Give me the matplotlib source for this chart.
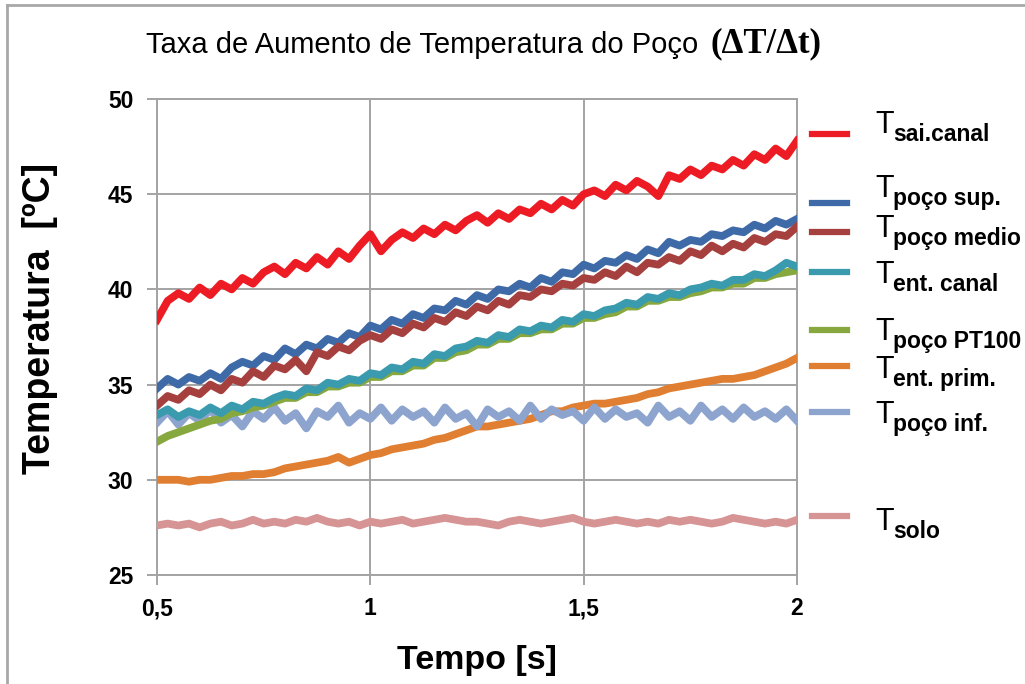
import matplotlib
matplotlib.use("Agg")
import matplotlib.pyplot as plt
from matplotlib.lines import Line2D

plt.rcParams["font.family"] = ["Liberation Sans", "DejaVu Sans"]

# time axis [s]
tempo = [0.500, 0.525, 0.550, 0.575, 0.600, 0.625, 0.650, 0.675, 0.700, 0.725,
         0.750, 0.775, 0.800, 0.825, 0.850, 0.875, 0.900, 0.925, 0.950, 0.975,
         1.000, 1.025, 1.050, 1.075, 1.100, 1.125, 1.150, 1.175, 1.200, 1.225,
         1.250, 1.275, 1.300, 1.325, 1.350, 1.375, 1.400, 1.425, 1.450, 1.475,
         1.500, 1.525, 1.550, 1.575, 1.600, 1.625, 1.650, 1.675, 1.700, 1.725,
         1.750, 1.775, 1.800, 1.825, 1.850, 1.875, 1.900, 1.925, 1.950, 1.975,
         2.000]

t_sai_canal = [38.4, 39.4, 39.8, 39.5, 40.1, 39.7, 40.3, 40.0, 40.6, 40.3,
               40.9, 41.2, 40.8, 41.4, 41.1, 41.7, 41.3, 42.0, 41.6, 42.3,
               42.9, 42.0, 42.6, 43.0, 42.7, 43.2, 42.9, 43.4, 43.1, 43.6,
               43.9, 43.5, 44.0, 43.7, 44.2, 44.0, 44.5, 44.2, 44.7, 44.4,
               45.0, 45.2, 44.9, 45.5, 45.2, 45.7, 45.4, 44.9, 46.0, 45.8,
               46.3, 46.0, 46.5, 46.3, 46.8, 46.5, 47.1, 46.8, 47.4, 47.0,
               47.8]
t_poco_sup = [34.8, 35.3, 35.0, 35.4, 35.2, 35.6, 35.3, 35.9, 36.2, 36.0,
              36.5, 36.3, 36.9, 36.6, 37.1, 36.9, 37.4, 37.2, 37.7, 37.5,
              38.1, 37.9, 38.4, 38.2, 38.7, 38.5, 39.0, 38.9, 39.4, 39.2,
              39.7, 39.5, 40.0, 39.9, 40.3, 40.1, 40.6, 40.4, 40.9, 40.8,
              41.3, 41.1, 41.5, 41.4, 41.8, 41.6, 42.1, 41.9, 42.5, 42.3,
              42.6, 42.5, 42.9, 42.8, 43.1, 43.0, 43.4, 43.2, 43.6, 43.4,
              43.7]
t_poco_medio = [33.9, 34.4, 34.2, 34.7, 34.5, 35.0, 34.7, 35.3, 35.1, 35.7,
                35.4, 36.0, 35.8, 36.3, 35.7, 36.7, 36.5, 37.0, 36.8, 37.3,
                37.6, 37.4, 37.9, 37.7, 38.2, 38.0, 38.5, 38.3, 38.8, 38.6,
                39.1, 38.9, 39.4, 39.2, 39.7, 39.6, 40.0, 39.9, 40.3, 40.2,
                40.6, 40.5, 40.9, 40.7, 41.2, 40.9, 41.4, 41.3, 41.7, 41.5,
                42.0, 41.8, 42.3, 42.0, 42.4, 42.2, 42.7, 42.5, 42.9, 42.8,
                43.3]
t_ent_canal = [33.4, 33.7, 33.3, 33.6, 33.4, 33.8, 33.5, 33.9, 33.7, 34.1,
               34.0, 34.3, 34.5, 34.4, 34.8, 34.7, 35.1, 35.0, 35.3, 35.2,
               35.6, 35.5, 35.9, 35.8, 36.2, 36.1, 36.6, 36.5, 36.9, 37.0,
               37.3, 37.2, 37.6, 37.5, 37.9, 37.8, 38.1, 38.0, 38.4, 38.3,
               38.7, 38.6, 38.9, 39.0, 39.3, 39.2, 39.6, 39.5, 39.8, 39.7,
               40.0, 40.1, 40.3, 40.2, 40.5, 40.5, 40.8, 40.7, 41.0, 41.4,
               41.2]
t_poco_pt100 = [32.0, 32.3, 32.5, 32.7, 32.9, 33.1, 33.2, 33.5, 33.6, 33.8,
                33.9, 34.1, 34.3, 34.3, 34.6, 34.6, 34.9, 34.9, 35.1, 35.1,
                35.4, 35.4, 35.7, 35.7, 36.0, 36.0, 36.4, 36.4, 36.7, 36.8,
                37.1, 37.1, 37.4, 37.4, 37.7, 37.7, 37.9, 37.9, 38.2, 38.2,
                38.5, 38.5, 38.7, 38.8, 39.1, 39.1, 39.4, 39.4, 39.6, 39.6,
                39.8, 39.9, 40.1, 40.1, 40.3, 40.3, 40.6, 40.6, 40.8, 40.9,
                41.0]
t_ent_prim = [30.0, 30.0, 30.0, 29.9, 30.0, 30.0, 30.1, 30.2, 30.2, 30.3,
              30.3, 30.4, 30.6, 30.7, 30.8, 30.9, 31.0, 31.2, 30.9, 31.1,
              31.3, 31.4, 31.6, 31.7, 31.8, 31.9, 32.1, 32.2, 32.4, 32.6,
              32.8, 32.8, 32.9, 33.0, 33.1, 33.2, 33.4, 33.6, 33.6, 33.8,
              33.9, 34.0, 34.0, 34.1, 34.2, 34.3, 34.5, 34.6, 34.8, 34.9,
              35.0, 35.1, 35.2, 35.3, 35.3, 35.4, 35.5, 35.7, 35.9, 36.1,
              36.4]
t_poco_inf = [33.0, 33.6, 32.9, 33.5, 33.1, 33.7, 33.0, 33.4, 32.8, 33.6,
              33.2, 33.8, 33.1, 33.5, 32.7, 33.6, 33.3, 33.9, 33.0, 33.5,
              33.2, 33.8, 33.1, 33.7, 33.3, 33.6, 33.0, 33.8, 33.2, 33.5,
              32.8, 33.7, 33.3, 33.6, 33.1, 33.9, 33.2, 33.7, 33.4, 33.6,
              33.1, 33.8, 33.2, 33.7, 33.3, 33.5, 33.0, 33.9, 33.3, 33.6,
              33.1, 33.9, 33.3, 33.7, 33.2, 33.8, 33.3, 33.6, 33.2, 33.7,
              33.1]
t_solo = [27.6, 27.7, 27.6, 27.7, 27.5, 27.7, 27.8, 27.6, 27.7, 27.9,
          27.7, 27.8, 27.7, 27.9, 27.8, 28.0, 27.8, 27.7, 27.8, 27.6,
          27.8, 27.7, 27.8, 27.9, 27.7, 27.8, 27.9, 28.0, 27.9, 27.8,
          27.8, 27.7, 27.6, 27.8, 27.9, 27.8, 27.7, 27.8, 27.9, 28.0,
          27.8, 27.7, 27.8, 27.9, 27.8, 27.7, 27.8, 27.7, 27.9, 27.8,
          27.9, 27.8, 27.7, 27.8, 28.0, 27.9, 27.8, 27.7, 27.8, 27.7,
          27.9]

x_ticks = [0.5, 1.0, 1.5, 2.0]
x_ticklabels = ["0,5", "1", "1,5", "2"]
y_ticks = [25, 30, 35, 40, 45, 50]

# (data, colour, subscript, zorder)
series = [
    (t_sai_canal, "#ED1C24", "sai.canal", 3),
    (t_poco_sup, "#3F6AA8", "poço sup.", 3),
    (t_poco_medio, "#A6403E", "poço medio", 4),
    (t_ent_canal, "#3A9AAE", "ent. canal", 5),
    (t_poco_pt100, "#86A83F", "poço PT100", 4.5),
    (t_ent_prim, "#E07E31", "ent. prim.", 3),
    (t_poco_inf, "#8DA5CE", "poço inf.", 3.5),
    (t_solo, "#D69494", "solo", 3),
]

W, H = 1025, 684
fig = plt.figure(figsize=(W / 100, H / 100), dpi=100)
fig.patch.set_facecolor("white")


def fx(px):
    return px / W


def fy(py):
    return 1 - py / H


ax = fig.add_axes([fx(157), fy(575), fx(797) - fx(157), fy(99) - fy(575)])
grid_c = "#a3a3a3"
for data, col, sub, z in series:
    ax.plot(tempo, data, color=col, lw=5.6, zorder=z, solid_joinstyle="round")

ax.set_xlim(0.5, 2.0)
ax.set_ylim(25, 50)
ax.set_xticks(x_ticks)
ax.set_xticklabels(x_ticklabels)
ax.set_yticks(y_ticks)
ax.grid(True, color=grid_c, lw=1.4, zorder=1)
for s in ax.spines.values():
    s.set_color(grid_c)
    s.set_linewidth(1.4)
ax.tick_params(axis="both", color=grid_c, width=1.4, length=7, labelsize=16.5)
ax.tick_params(axis="x", pad=9)
ax.tick_params(axis="y", pad=10)
for lab in ax.get_xticklabels() + ax.get_yticklabels():
    lab.set_fontweight("bold")

fig.text(fx(477), fy(660), "Tempo [s]", fontsize=24.5, fontweight="bold",
         ha="center", va="center")
fig.text(fx(40), fy(318), "Temperatura  [ºC]", fontsize=27, fontweight="bold",
         ha="center", va="center", rotation=90)

# title
fig.text(fx(146), fy(45), "Taxa de Aumento de Temperatura do Poço", fontsize=21,
         va="center", ha="left")
fig.text(fx(710), fy(44), "(ΔT/Δt)", fontsize=25, fontweight="bold",
         family=["Liberation Serif", "DejaVu Serif"], va="center", ha="left")

# legend drawn by hand (uneven spacing as in the original)
leg_line_y = [134, 203, 232, 272, 330, 366, 412, 516]
leg_T_base = [133, 197, 237, 283, 340, 378, 423, 530]
for (data, col, sub, z), ly, tb in zip(series, leg_line_y, leg_T_base):
    fig.add_artist(Line2D([fx(812), fx(847)], [fy(ly), fy(ly)], color=col, lw=4.5,
                          transform=fig.transFigure))
    fig.text(fx(875), fy(tb), "T", fontsize=22, va="baseline", ha="left")
    fig.text(fx(893), fy(tb + 8), sub, fontsize=16.5, fontweight="bold",
             va="baseline", ha="left")

# outer frame (left and top edges only)
fig.add_artist(Line2D([fx(7), fx(7)], [fy(5), 0], color="#a8a8a8", lw=2,
                      transform=fig.transFigure))
fig.add_artist(Line2D([fx(7), 1], [fy(5), fy(5)], color="#a8a8a8", lw=2,
                      transform=fig.transFigure))

fig.savefig("out.png", dpi=100)
